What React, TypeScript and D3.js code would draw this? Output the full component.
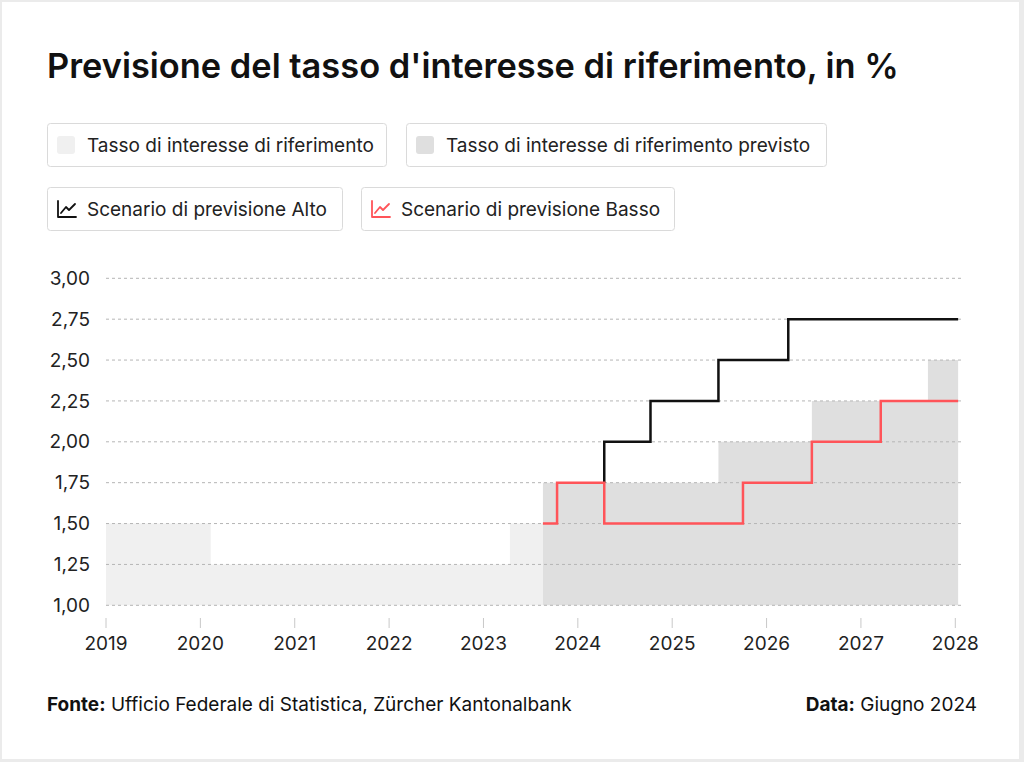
import React from 'react';
import * as d3 from 'd3';

// reference rate (step after), last entry marks the end of the series
const refDates = [2019, 2020.11, 2023.28, 2023.63];
const refValues = [1.5, 1.25, 1.5, 1.5];

// forecasted reference rate
const forecastDates = [2023.63, 2025.49, 2026.48, 2027.71, 2028.03];
const forecastValues = [1.75, 2.0, 2.25, 2.5, 2.5];

// scenario "Alto"
const highDates = [2024.28, 2024.28, 2024.77, 2025.49, 2026.23, 2028.03];
const highValues = [1.75, 2.0, 2.25, 2.5, 2.75, 2.75];

// scenario "Basso"
const lowDates = [2023.63, 2023.78, 2024.28, 2025.75, 2026.48, 2027.21, 2028.03];
const lowValues = [1.5, 1.75, 1.5, 1.75, 2.0, 2.25, 2.25];

const yearTicks = [2019, 2020, 2021, 2022, 2023, 2024, 2025, 2026, 2027, 2028];
const rateTicks = [1, 1.25, 1.5, 1.75, 2, 2.25, 2.5, 2.75, 3];

const title = "Previsione del tasso d'interesse di riferimento, in %";

const FONT = 'Inter, "Noto Sans", sans-serif';
const LIGHT = '#f0f0f0';
const DARK = '#dfdfdf';
const RED = '#ff5459';

const zip = (xs: number[], ys: number[]) => xs.map((x, i) => ({ x, y: ys[i] }));

const LineIcon = ({ x, y, color }: { x: number; y: number; color: string }) => (
  <g transform={`translate(${x},${y})`} fill="none" stroke={color} strokeWidth={1.8} strokeLinecap="round" strokeLinejoin="round">
    <path d="M1,1 V17 H19" />
    <path d="M4,13 L9,7 L12,10 L18,4" />
  </g>
);

const App = () => {
  const x = d3.scaleLinear().domain([2019, 2028]).range([106, 955.3]);
  const y = d3.scaleLinear().domain([1, 3]).range([605.3, 278.3]);

  const area = d3.area<{ x: number; y: number }>()
    .x(d => x(d.x))
    .y0(y(1))
    .y1(d => y(d.y))
    .curve(d3.curveStepAfter);

  const line = d3.line<{ x: number; y: number }>()
    .x(d => x(d.x))
    .y(d => y(d.y))
    .curve(d3.curveStepAfter);

  const fmt = (v: number) => d3.format('.2f')(v).replace('.', ',');

  const legend = [
    { x: 47, y: 123, w: 339, label: 'Tasso di interesse di riferimento', type: 'box', color: LIGHT },
    { x: 406, y: 123, w: 420, label: 'Tasso di interesse di riferimento previsto', type: 'box', color: DARK },
    { x: 47, y: 187, w: 295, label: 'Scenario di previsione Alto', type: 'line', color: '#111' },
    { x: 361, y: 187, w: 313, label: 'Scenario di previsione Basso', type: 'line', color: RED },
  ];

  return (
    <div style={{ position: 'absolute', left: 0, top: 0 }}>
      <svg width={1024} height={762} style={{ display: 'block', fontFamily: FONT }}>
        <rect width={1024} height={762} fill="#ebebeb" />
        <rect x={2} y={2} width={1017} height={757} fill="#fff" />

        <text x={47} y={78} fontSize={34.4} fontWeight={600} fill="#111">{title}</text>

        {legend.map(l => (
          <g key={l.label}>
            <rect x={l.x + 0.5} y={l.y + 0.5} width={l.w} height={43} rx={3} fill="#fff" stroke="#dadada" />
            {l.type === 'box'
              ? <rect x={l.x + 10} y={l.y + 13} width={18} height={18} rx={3} fill={l.color} />
              : <LineIcon x={l.x + 10} y={l.y + 13} color={l.color} />}
            <text x={l.x + 40} y={l.y + 29} fontSize={19} fill="#222">{l.label}</text>
          </g>
        ))}

        {/* areas */}
        <path d={area(zip(refDates, refValues)) || ''} fill={LIGHT} />
        <path d={area(zip(forecastDates, forecastValues)) || ''} fill={DARK} />

        {/* grid */}
        {rateTicks.map(t => (
          <g key={t}>
            <line x1={106} x2={962} y1={y(t)} y2={y(t)} stroke="#b5b5b5" strokeDasharray="3,3" />
            <text x={90} y={y(t)} dy="0.35em" textAnchor="end" fontSize={19} fill="#222">{fmt(t)}</text>
          </g>
        ))}

        {/* scenario lines */}
        <path d={line(zip(highDates, highValues)) || ''} fill="none" stroke="#111" strokeWidth={2.5} />
        <path d={line(zip(lowDates, lowValues)) || ''} fill="none" stroke={RED} strokeWidth={2.5} />

        {/* x axis */}
        {yearTicks.map(t => (
          <g key={t}>
            <line x1={x(t)} x2={x(t)} y1={618} y2={628} stroke="#c8c8c8" />
            <text x={x(t)} y={650} textAnchor="middle" fontSize={19} fill="#222">{t}</text>
          </g>
        ))}

        <text x={47} y={711} fontSize={19} fill="#111">
          <tspan fontWeight={700}>Fonte:</tspan> Ufficio Federale di Statistica, Zürcher Kantonalbank
        </text>
        <text x={977} y={711} fontSize={19} fill="#111" textAnchor="end">
          <tspan fontWeight={700}>Data:</tspan> Giugno 2024
        </text>
      </svg>
    </div>
  );
};

export default App;
